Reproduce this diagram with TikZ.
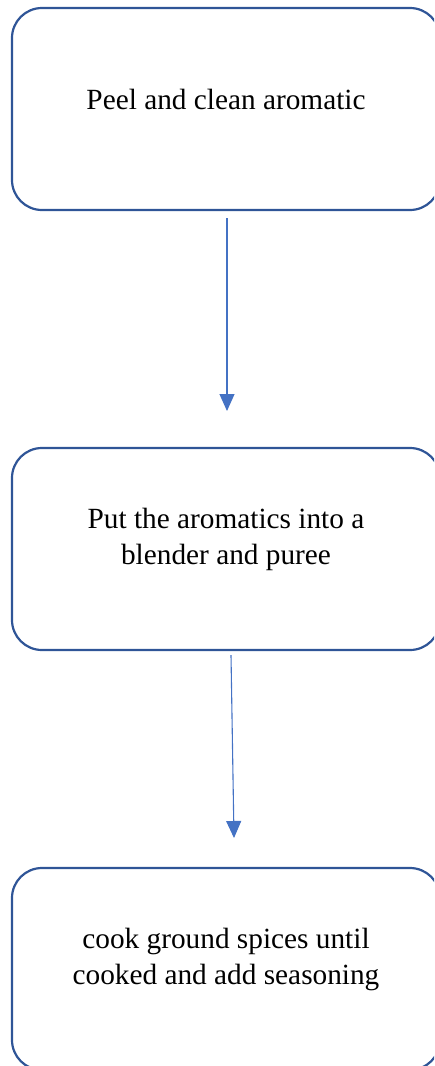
\documentclass[tikz,border=0pt]{standalone}
\usepackage{fontspec}
\setmainfont{Liberation Serif}
\usetikzlibrary{arrows.meta}
\definecolor{boxline}{HTML}{2F5597}
\definecolor{arrowblue}{HTML}{4472C4}
\tikzset{
  stepbox/.style={draw=boxline, line width=2.2pt, rounded corners=30pt,
    minimum width=428pt, minimum height=202pt, inner sep=0pt},
  steptext/.style={align=center, font=\fontsize{29.3}{36}\selectfont, inner sep=0pt},
  flowarrow/.style={draw=arrowblue, line width=1.1pt,
    -{Triangle[width=15pt,length=17pt]}, arrowblue}
}
\begin{document}
\begin{tikzpicture}[x=1pt,y=-1pt]
\useasboundingbox (0,0) rectangle (434,1066);
\clip (0,0) rectangle (434,1066);
\node[stepbox] (b1) at (226,109) {};
\node[stepbox] (b2) at (226,549) {};
\node[stepbox] (b3) at (226,969) {};
\node[steptext] (t1) at (226,99) {Peel and clean aromatic};
\node[steptext] (t2) at (226,539) {Put the aromatics into a\\blender and puree};
\node[steptext] (t3) at (226,959) {cook ground spices until\\cooked and add seasoning};
\coordinate (a1s) at (227,218);
\coordinate (a1e) at (227,411);
\coordinate (a2s) at (231,655);
\coordinate (a2e) at (234,838);
\draw[flowarrow] (a1s) -- (a1e);
\draw[flowarrow] (a2s) -- (a2e);
\end{tikzpicture}
\end{document}
